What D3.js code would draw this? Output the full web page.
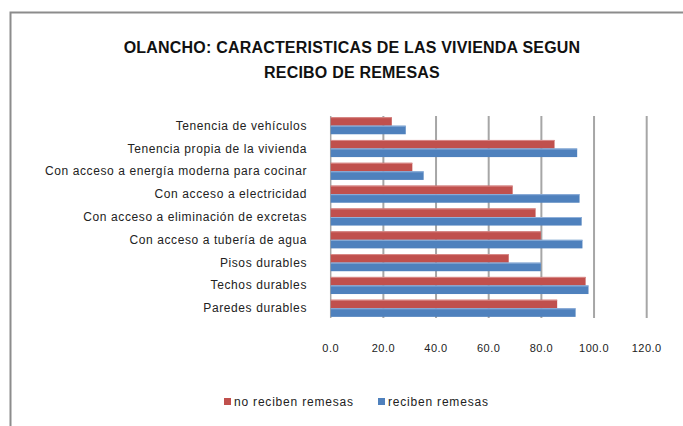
<!DOCTYPE html>
<html>
<head>
<meta charset="utf-8">
<script src="https://cdn.jsdelivr.net/npm/d3@7"></script>
<style>
  body { margin: 0; background: #fff; }
  text { font-family: "Liberation Sans", "DejaVu Sans", sans-serif; }
</style>
</head>
<body>
<div class="chart"></div>
<script>
// categories, top to bottom
const categories = [
  "Tenencia de vehículos",
  "Tenencia propia de la vivienda",
  "Con acceso a energía moderna para cocinar",
  "Con acceso a electricidad",
  "Con acceso a eliminación de excretas",
  "Con acceso a tubería de agua",
  "Pisos durables",
  "Techos durables",
  "Paredes durables"
];
const noReciben = [23.2, 85.0, 31.0, 69.1, 77.8, 79.8, 67.6, 96.8, 86.0];
const reciben   = [28.5, 93.6, 35.3, 94.5, 95.3, 95.6, 79.8, 97.9, 93.0];
const seriesNames = ["no reciben remesas", "reciben remesas"];
const tickValues = [0, 20, 40, 60, 80, 100, 120];
const titleLines = ["OLANCHO: CARACTERISTICAS DE LAS VIVIENDA SEGUN", "RECIBO DE REMESAS"];

const width = 683, height = 426;
const red = "#c0504d", blue = "#4f81bd";

const svg = d3.select(".chart").append("svg")
  .attr("width", width).attr("height", height);

// outer frame (top + left visible)
svg.append("path")
  .attr("d", "M10.5,426 L10.5,12.5 L683,12.5")
  .attr("fill", "none").attr("stroke", "#8c8c8c").attr("stroke-width", 2);

svg.selectAll("text.title")
  .data(titleLines)
  .enter().append("text")
  .attr("class", "title")
  .attr("x", 352)
  .attr("y", (d, i) => 53 + i * 25)
  .attr("text-anchor", "middle")
  .attr("font-size", 16)
  .attr("font-weight", "bold")
  .attr("letter-spacing", 0.2)
  .attr("fill", "#111")
  .text(d => d);

const x = d3.scaleLinear().domain([0, 120]).range([330.7, 646.7]);
const y = d3.scaleBand().domain(categories).range([116, 318]).paddingInner(0.25).paddingOuter(0.05);
const sub = d3.scaleBand().domain([0, 1]).range([0, y.bandwidth()]);

// gridlines
svg.selectAll("line.grid")
  .data(tickValues)
  .enter().append("line")
  .attr("x1", d => x(d)).attr("x2", d => x(d))
  .attr("y1", 116).attr("y2", 318)
  .attr("stroke", "#a6a6a6")
  .attr("stroke-width", d => d === 0 ? 1.5 : 2);

const rows = categories.map((c, i) => ({c, vals: [noReciben[i], reciben[i]]}));
const colors = [red, blue];

const g = svg.selectAll("g.row")
  .data(rows)
  .enter().append("g")
  .attr("transform", d => `translate(0,${y(d.c)})`);

g.selectAll("rect")
  .data(d => d.vals.map((v, k) => ({v, k})))
  .enter().append("rect")
  .attr("x", x(0))
  .attr("y", d => sub(d.k))
  .attr("width", d => x(d.v) - x(0))
  .attr("height", sub.bandwidth())
  .attr("fill", d => colors[d.k]);

// light top edge on bars
g.selectAll("line.hl")
  .data(d => d.vals.map((v, k) => ({v, k})))
  .enter().append("line")
  .attr("x1", x(0)).attr("x2", d => x(d.v))
  .attr("y1", d => sub(d.k) + 0.5).attr("y2", d => sub(d.k) + 0.5)
  .attr("stroke", d => d.k === 0 ? "#d98c8a" : "#8fb0da")
  .attr("stroke-width", 1);

// category labels
svg.selectAll("text.cat")
  .data(categories)
  .enter().append("text")
  .attr("x", 307)
  .attr("y", d => y(d) + y.bandwidth() / 2 + 4)
  .attr("text-anchor", "end")
  .attr("font-size", 12)
  .attr("letter-spacing", 0.6)
  .attr("fill", "#222")
  .text(d => d);

// x tick labels
svg.selectAll("text.tick")
  .data(tickValues)
  .enter().append("text")
  .attr("x", d => x(d))
  .attr("y", 352)
  .attr("text-anchor", "middle")
  .attr("font-size", 11)
  .attr("letter-spacing", 0.5)
  .attr("fill", "#222")
  .text(d => d3.format(".1f")(d));

// legend
const legendX = [224, 378];
const lg = svg.selectAll("g.legend")
  .data(seriesNames)
  .enter().append("g")
  .attr("transform", (d, i) => `translate(${legendX[i]},398)`);
lg.append("rect").attr("width", 7).attr("height", 7).attr("fill", (d, i) => colors[i]);
lg.append("text").attr("x", 10).attr("y", 8).attr("font-size", 12).attr("letter-spacing", 0.8).attr("fill", "#222").text(d => d);
</script>
</body>
</html>
